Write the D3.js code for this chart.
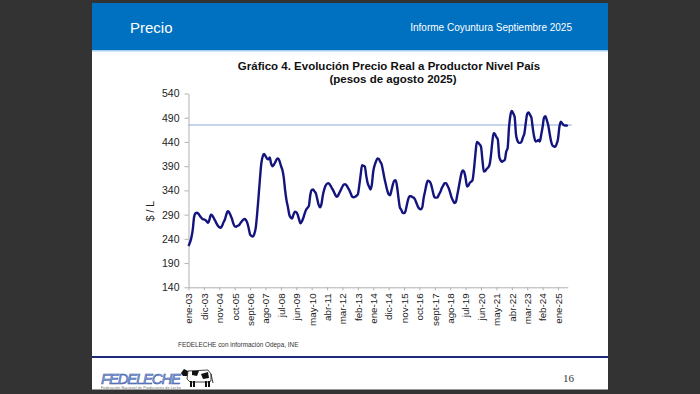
<!DOCTYPE html>
<html>
<head>
<meta charset="utf-8">
<script src="https://cdn.jsdelivr.net/npm/d3@7"></script>
<style>
  body { margin: 0; background: #333333; }
  svg { display: block; font-family: "Liberation Sans", Arial, sans-serif; }
</style>
</head>
<body>
<div id="chart"></div>
<script>
// monthly real producer price, ene-03 .. ago-25 ($ / L)
var precio = [
  225, 232, 242, 258, 285, 293, 294, 292, 288, 284, 281, 280, // 2003
  279, 276, 273, 280, 290, 288, 283, 278, 272, 267, 264, 263, // 2004
  267, 274, 280, 290, 297, 295, 289, 282, 272, 266, 265, 267, // 2005
  268, 272, 276, 279, 281, 279, 273, 262, 249, 246, 245, 250, // 2006
  262, 290, 325, 362, 395, 410, 415, 411, 406, 404, 408, 396, // 2007
  390, 393, 398, 404, 406, 401, 391, 383, 368, 341, 320, 306, // 2008
  290, 284, 282, 290, 296, 295, 290, 280, 272, 276, 283, 292, // 2009
  300, 304, 308, 330, 341, 342, 338, 334, 322, 310, 305, 312, // 2010
  330, 342, 350, 354, 355, 352, 347, 342, 336, 330, 327, 330, // 2011
  336, 342, 348, 352, 353, 350, 345, 340, 333, 327, 326, 327, // 2012
  329, 332, 350, 372, 392, 391, 389, 370, 355, 348, 342, 352, // 2013
  379, 392, 400, 406, 405, 399, 394, 380, 365, 352, 340, 332, // 2014
  330, 340, 352, 360, 361, 348, 325, 305, 300, 294, 293, 297, // 2015
  310, 322, 328, 328, 326, 325, 320, 313, 306, 302, 301, 305, // 2016
  324, 338, 352, 360, 359, 355, 345, 332, 325, 325, 326, 332, // 2017
  337, 345, 350, 355, 355, 350, 344, 335, 325, 319, 314, 316, // 2018
  330, 345, 361, 375, 381, 378, 365, 348, 350, 356, 358, 362, // 2019
  385, 415, 440, 438, 435, 430, 403, 379, 380, 384, 387, 392, // 2020
  410, 438, 458, 456, 450, 445, 410, 402, 399, 401, 403, 420, // 2021
  427, 470, 495, 504, 499, 492, 455, 443, 438, 438, 441, 450, // 2022
  458, 480, 498, 501, 496, 490, 468, 450, 441, 442, 444, 441, // 2023
  455, 471, 490, 493, 485, 475, 458, 442, 433, 431, 430, 436, // 2024
  446, 471, 482, 478, 475, 474, 474, 473                      // 2025
];

// reference level (latest price)
var referencia = 475;

var yTicks = [140, 190, 240, 290, 340, 390, 440, 490, 540];

var tickLabels = ["ene-03", "dic-03", "nov-04", "oct-05", "sept-06", "ago-07",
  "jul-08", "jun-09", "may-10", "abr-11", "mar-12", "feb-13", "ene-14", "dic-14",
  "nov-15", "oct-16", "sept-17", "ago-18", "jul-19", "jun-20", "may-21", "abr-22",
  "mar-23", "feb-24", "ene-25"];

// slide
var W = 700, H = 394;
var svg = d3.select("#chart")
  .append("svg")
    .attr("width", W)
    .attr("height", H);

svg.append("rect")
  .attr("x", 92).attr("y", 3)
  .attr("width", 516).attr("height", 387)
  .attr("fill", "#ffffff");

svg.append("rect")
  .attr("x", 92).attr("y", 3)
  .attr("width", 516).attr("height", 47)
  .attr("fill", "#0070c0");

svg.append("rect")
  .attr("x", 92).attr("y", 50)
  .attr("width", 516).attr("height", 1.5)
  .attr("fill", "#a9cdee");

svg.append("text")
  .attr("x", 130).attr("y", 33)
  .attr("fill", "#ffffff")
  .style("font-size", "15px")
  .text("Precio");

svg.append("text")
  .attr("x", 572).attr("y", 31)
  .attr("text-anchor", "end")
  .attr("fill", "#ffffff")
  .style("font-size", "10px")
  .text("Informe Coyuntura Septiembre 2025");

// chart title
svg.append("text")
  .attr("x", 389).attr("y", 70)
  .attr("text-anchor", "middle")
  .style("font-size", "11.5px")
  .style("font-weight", "bold")
  .attr("fill", "#111")
  .text("Gráfico 4. Evolución Precio Real a Productor Nivel País");

svg.append("text")
  .attr("x", 393).attr("y", 83)
  .attr("text-anchor", "middle")
  .style("font-size", "11.5px")
  .style("font-weight", "bold")
  .attr("fill", "#111")
  .text("(pesos de agosto 2025)");

// plot area
var margin = {top: 93.5, left: 188.5},
    width = 379.3,
    height = 193.8;

var g = svg.append("g")
  .attr("transform", "translate(" + margin.left + "," + margin.top + ")");

var x = d3.scaleLinear()
  .domain([0, precio.length - 1])
  .range([0, width]);

var y = d3.scaleLinear()
  .domain([140, 540])
  .range([height, 0]);

// Y axis
var yAxis = g.append("g")
  .call(d3.axisLeft(y).tickValues(yTicks).tickSize(4).tickSizeOuter(0).tickPadding(5));
yAxis.selectAll("text")
  .style("font-size", "10.5px")
  .attr("fill", "#222");

// X axis
var tickPos = tickLabels.map(function(d, i) { return i * 11; });
var xAxis = g.append("g")
  .attr("transform", "translate(0," + height + ")")
  .call(d3.axisBottom(x)
    .tickValues(tickPos)
    .tickFormat(function(d, i) { return tickLabels[i]; })
    .tickSize(3)
    .tickSizeOuter(0));
xAxis.selectAll("text")
  .attr("transform", "rotate(-90)")
  .attr("x", -6)
  .attr("y", 0)
  .attr("dy", "0.34em")
  .style("text-anchor", "end")
  .style("font-size", "9.8px")
  .attr("fill", "#222");

svg.selectAll(".domain, .tick line")
  .attr("stroke", "#b0b0b0");

svg.append("text")
  .attr("transform", "translate(154,211) rotate(-90)")
  .attr("text-anchor", "middle")
  .style("font-size", "10.5px")
  .attr("fill", "#222")
  .text("$ / L");

// reference line
g.append("line")
  .attr("x1", x(0)).attr("x2", x(precio.length - 1) + 4)
  .attr("y1", y(referencia)).attr("y2", y(referencia))
  .attr("stroke", "#8eaadc")
  .attr("stroke-width", 1.2);

// price line
var line = d3.line()
  .x(function(d, i) { return x(i); })
  .y(function(d) { return y(d); })
  .curve(d3.curveMonotoneX);

g.append("path")
  .datum(precio)
  .attr("d", line)
  .attr("fill", "none")
  .attr("stroke", "#14147f")
  .attr("stroke-width", 2.4)
  .attr("stroke-linejoin", "round");

// source
svg.append("text")
  .attr("x", 178).attr("y", 347)
  .style("font-size", "6.4px")
  .attr("fill", "#333")
  .text("FEDELECHE con información Odepa, INE");

// footer
svg.append("rect")
  .attr("x", 92).attr("y", 356)
  .attr("width", 516).attr("height", 2)
  .attr("fill", "#1f2a7a");

svg.append("rect")
  .attr("x", 92).attr("y", 389)
  .attr("width", 516).attr("height", 1)
  .attr("fill", "#9a9a9a");

svg.append("text")
  .attr("x", 101).attr("y", 384)
  .attr("textLength", 80)
  .style("font-size", "15px")
  .style("font-style", "italic")
  .attr("fill", "#8aa6dc")
  .attr("stroke", "#2c4a9c")
  .attr("stroke-width", 0.5)
  .text("FEDELECHE");

svg.append("text")
  .attr("x", 101).attr("y", 388.5)
  .attr("textLength", 80)
  .style("font-size", "3.5px")
  .attr("fill", "#666")
  .text("Federación Nacional de Productores de Leche");

// little cow
var cow = svg.append("g").attr("transform", "translate(184,365)");
cow.append("path")
  .attr("d", "M4,6 L24,5 L27,9 L27,16 L24,17 L6,17 L3,14 Z")
  .attr("fill", "#fff").attr("stroke", "#111").attr("stroke-width", 0.8);
cow.append("path").attr("d", "M8,6 L15,6 L13,11 L8,10 Z").attr("fill", "#111");
cow.append("path").attr("d", "M17,9 L24,7 L25,13 L19,14 Z").attr("fill", "#111");
cow.append("path").attr("d", "M4,6 L0,4 L-3,8 L-1,11 L3,11 Z").attr("fill", "#111");
[6, 9, 21, 24].forEach(function(lx) {
  cow.append("rect").attr("x", lx).attr("y", 16).attr("width", 2).attr("height", 6).attr("fill", "#111");
});
cow.append("line").attr("x1", 27).attr("y1", 9).attr("x2", 29).attr("y2", 18)
  .attr("stroke", "#111").attr("stroke-width", 0.8);

svg.append("text")
  .attr("x", 563).attr("y", 382)
  .style("font-family", "'Liberation Serif', 'Times New Roman', serif")
  .style("font-size", "11px")
  .attr("fill", "#333")
  .text("16");
</script>
</body>
</html>
